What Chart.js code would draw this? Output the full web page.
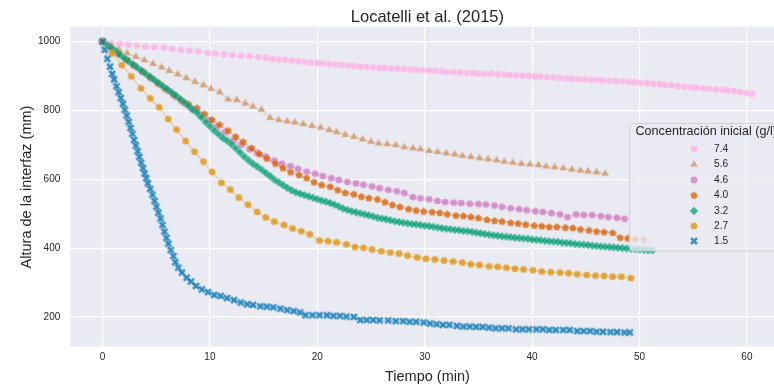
<!DOCTYPE html>
<html>
<head>
<meta charset="utf-8">
<script src="https://cdn.jsdelivr.net/npm/chart.js@4/dist/chart.umd.min.js"></script>
<style>
  html, body { margin: 0; padding: 0; background: #ffffff; overflow: hidden; }
  #wrap { position: relative; width: 790px; height: 388px; }
</style>
</head>
<body>
<div id="wrap"><canvas id="chart"></canvas></div>
<script>
// ---- Texts and ticks ----
const chartTitle = 'Locatelli et al. (2015)';
const xTitle = 'Tiempo (min)';
const yTitle = 'Altura de la interfaz (mm)';
const legendTitle = 'Concentración inicial (g/l)';
const xTicks = [0, 10, 20, 30, 40, 50, 60];
const yTicks = [200, 400, 600, 800, 1000];
const concentrations = ['7.4', '5.6', '4.6', '4.0', '3.2', '2.7', '1.5'];

// ---- Settling curves: [tiempo (min), altura (mm)] ----
const c74 = [[0,1000],[0.8,995],[1.6,993],[2.4,991],[3.2,988],[4.0,985],[4.8,984],[5.7,982],[6.5,979],[7.3,976],
  [8.1,974],[8.9,971],[9.8,967],[10.5,965],[11.3,963],[12.1,961],[12.9,959],[13.7,957],[14.5,955],[15.2,953],
  [15.8,950],[16.4,948],[17.0,947],[17.6,945],[18.2,943],
  [18.8,941],[19.4,939],[20.0,938],[20.5,937],[21.1,935],[21.7,933],[22.3,932],[22.9,930],[23.4,929],[24.0,927],
  [24.6,926],[25.2,925],[25.8,924],[26.3,923],[26.9,922],[27.5,921],[28.1,920],[28.7,919],[29.2,918],[29.8,917],
  [30.4,916],[31.0,915],[31.6,913],[32.1,912],[32.7,911],[33.3,910],[33.9,909],[34.5,908],[35.0,907],[35.6,906],
  [36.2,906],[36.8,905],[37.4,904],[37.9,903],[38.5,902],[39.1,901],[39.7,900],[40.3,899],[40.8,898],[41.4,897],
  [42.0,896],[42.6,894],[43.2,893],[43.7,892],[44.3,891],[44.9,890],[45.5,889],[46.1,888],[46.6,887],[47.2,886],
  [47.8,885],[48.4,884],[49.0,883],[49.5,882],[50.1,880],[50.7,879],[51.3,877],[51.9,876],[52.4,874],[53.0,873],
  [53.6,871],[54.2,869],[54.8,867],[55.3,866],[55.9,864],[56.5,863],[57.1,861],[57.7,860],[58.2,858],[58.8,856],
  [59.4,853],[60.0,851],[60.5,848]];

const c56 = [[0,1000],[0.8,988],[1.5,977],[2.3,966],[3.1,956],[3.9,946],[4.7,935],[5.5,925],[6.2,915],[7.0,905],
  [7.8,894],[8.6,883],[9.4,873],[10.1,863],[10.9,853],[11.7,832],[12.5,830],[13.3,820],[14.0,811],[14.8,802],
  [15.6,778],[16.4,772],[17.2,768],[17.9,765],[18.7,760],[19.5,755],[20.3,750],[21.1,743],[21.8,737],[22.6,729],
  [23.4,723],[24.2,716],[25.0,709],[25.7,704],[26.5,702],[27.3,699],[28.1,693],[28.9,690],[29.6,687],[30.4,682],
  [31.2,679],[32.0,675],[32.8,672],[33.5,668],[34.3,665],[35.1,661],[35.9,658],[36.7,655],[37.4,651],[38.2,648],
  [39.0,645],[39.8,643],[40.6,641],[41.3,637],[42.1,635],[42.9,632],[43.7,628],[44.5,625],[45.2,623],[46.0,620],
  [46.8,616]];

const c46 = [[0,1000],[0.8,981],[1.5,964],[2.3,946],[3.0,929],[3.8,911],[4.6,892],[5.3,875],[6.1,857],[6.8,840],
  [7.6,822],[8.4,804],[9.1,787],[9.9,771],[10.6,752],[11.4,736],[12.2,713],[12.9,700],[13.7,687],[14.4,677],
  [15.2,666],[16.0,654],[16.7,645],[17.5,638],[18.2,630],[19.0,622],[19.8,616],[20.5,609],[21.3,603],[22.0,598],
  [22.8,592],[23.6,588],[24.3,584],[25.1,579],[25.8,574],[26.6,569],[27.4,565],[28.1,560],[28.9,548],[29.6,545],
  [30.4,542],[31.2,537],[31.9,534],[32.7,532],[33.4,531],[34.2,529],[35.0,528],[35.7,527],[36.5,524],[37.2,520],
  [38.0,516],[38.8,513],[39.5,510],[40.3,507],[41.0,505],[41.8,502],[42.6,498],[43.3,490],[44.1,498],[44.8,496],
  [45.6,496],[46.4,493],[47.1,490],[47.9,488],[48.6,485]];

const c40 = [[0,1000],[0.7,983],[1.5,965],[2.2,948],[2.9,931],[3.7,913],[4.4,896],[5.1,880],[5.8,863],[6.6,846],
  [7.3,829],[8.0,818],[8.8,806],[9.5,789],[10.2,772],[10.9,758],[11.7,741],[12.4,723],[13.1,708],[13.9,690],
  [14.6,673],[15.3,660],[16.1,645],[16.8,632],[17.5,620],[18.3,612],[19.0,603],[19.7,591],[20.4,583],[21.2,578],
  [21.9,568],[22.6,560],[23.4,556],[24.1,549],[24.8,545],[25.6,541],[26.3,533],[27.0,525],[27.7,519],[28.5,513],
  [29.2,509],[29.9,506],[30.7,504],[31.4,502],[32.1,498],[32.9,494],[33.6,493],[34.3,490],[35.0,487],[35.8,482],
  [36.5,479],[37.2,477],[38.0,473],[38.7,471],[39.4,468],[40.2,465],[40.9,463],[41.6,461],[42.3,461],[43.1,459],
  [43.8,458],[44.5,454],[45.3,451],[46.0,448],[46.7,446],[47.5,444],[48.2,430],[48.9,428],[49.6,426],[50.4,425]];

const c32 = [[0,1000],[0.4,991],[0.8,982],[1.2,973],[1.6,962],[2.0,952],[2.4,943],[2.8,934],[3.2,925],[3.6,916],
  [4.0,907],[4.4,898],[4.8,889],[5.2,880],[5.6,871],[6.0,862],[6.4,853],[6.8,844],[7.2,834],[7.6,824],
  [8.0,813],[8.4,802],[8.8,793],[9.2,780],[9.6,766],[10.0,754],[10.4,741],[10.8,731],[11.2,720],[11.6,712],
  [12.0,702],[12.4,690],[12.8,678],[13.2,666],[13.6,655],[14.0,645],[14.4,637],[14.8,628],[15.2,618],[15.6,609],
  [16.0,599],[16.4,591],[16.8,583],[17.2,575],[17.6,568],[18.0,562],[18.4,558],[18.8,554],[19.2,550],[19.6,546],
  [20.0,542],[20.4,538],[20.8,535],[21.2,531],[21.6,526],[22.0,521],[22.4,515],[22.8,511],[23.2,507],[23.6,504],
  [24.0,501],[24.4,498],[24.8,495],[25.2,492],[25.6,488],[26.0,486],[26.4,484],[26.8,481],[27.2,478],[27.6,476],
  [28.0,474],[28.4,472],[28.8,470],[29.2,469],[29.6,467],[30.0,465],[30.4,464],[30.8,462],[31.2,460],[31.6,458],
  [32.0,456],[32.4,455],[32.8,453],[33.2,452],[33.6,450],[34.0,449],[34.4,447],[34.8,445],[35.2,443],[35.6,441],
  [36.0,439],[36.4,437],[36.8,436],[37.2,434],[37.6,433],[38.0,432],[38.4,430],[38.8,429],[39.2,428],[39.6,427],
  [40.0,425],[40.4,424],[40.8,423],[41.2,421],[41.6,420],[42.0,419],[42.4,418],[42.8,416],[43.2,415],[43.6,414],
  [44.0,412],[44.4,411],[44.8,410],[45.2,409],[45.6,407],[46.0,406],[46.4,405],[46.8,404],[47.2,403],[47.6,402],
  [48.0,401],[48.4,400],[48.8,399],[49.2,398],[49.6,397],[50.0,396],[50.4,395],[50.8,394],[51.2,394]];

const c27 = [[0,1000],[0.89,966],[1.8,931],[2.68,899],[3.57,864],[4.45,835],[5.27,809],[6.12,775],[6.9,744],[7.74,711],
  [8.57,680],[9.4,651],[10.2,621],[11.06,590],[11.9,570],[12.7,547],[13.55,526],[14.4,505],[15.2,489],[16.0,477],
  [16.9,467],[17.7,457],[18.5,449],[19.3,440],[20.2,422],[21.0,420],[21.8,417],[22.7,411],[23.5,403],[24.3,401],
  [25.1,396],[25.96,391],[26.8,387],[27.6,384],[28.4,378],[29.3,373],[30.1,369],[30.95,367],[31.8,364],[32.65,361],
  [33.5,358],[34.3,353],[35.1,351],[36.0,347],[36.8,346],[37.6,343],[38.4,340],[39.2,338],[40.08,336],[40.9,332],
  [41.75,330],[42.6,329],[43.4,327],[44.2,324],[45.08,322],[45.9,320],[46.7,319],[47.5,317],[48.3,317],[49.2,313]];

const c15 = [[0,1000],[0.2,976],[0.45,950],[0.7,927],[0.9,906],[1.08,890],[1.3,870],[1.5,853],[1.7,836],[1.9,819],
  [2.07,802],[2.25,785],[2.43,767],[2.6,749],[2.78,732],[2.94,714],[3.1,698],[3.27,681],[3.43,665],[3.6,648],
  [3.76,632],[3.92,617],[4.07,603],[4.22,588],[4.44,572],[4.65,555],[4.84,537],[5.02,520],[5.2,503],[5.4,486],
  [5.58,467],[5.76,448],[5.95,430],[6.13,413],[6.35,394],[6.6,377],[6.78,359],[7.06,343],[7.4,329],[7.83,314],
  [8.23,303],[8.7,290],[9.25,280],[9.83,272],[10.4,264],[11.0,261],[11.6,255],[12.24,249],[12.86,242],[13.47,237],
  [14.0,235],[14.7,231],[15.3,230],[15.9,228],[16.56,224],[17.2,220],[17.8,217],[18.4,213],[18.9,205],[19.55,205],
  [20.2,205],[20.9,205],[21.5,203],[22.1,203],[22.7,201],[23.4,200],[24.0,191],[24.6,191],[25.2,191],[25.8,190],
  [26.6,190],[27.3,188],[28.0,188],[28.6,186],[29.2,186],[29.9,184],[30.5,181],[31.1,179],[31.7,177],[32.3,177],
  [33.0,174],[33.6,172],[34.2,172],[34.8,171],[35.4,171],[36.0,169],[36.6,167],[37.2,167],[37.8,167],[38.5,164],
  [39.1,164],[39.7,164],[40.4,164],[41.0,164],[41.6,162],[42.2,162],[42.9,162],[43.5,162],[44.2,159],[44.8,159],
  [45.4,159],[46.0,157],[46.6,157],[47.3,156],[47.9,156],[48.6,155],[49.1,155]];

// ---- Styling ----
const FONT = '"Liberation Sans", Arial, Helvetica, sans-serif';
const TEXT = '#262626';
const PLOT_BG = '#EAEAF2';

const seriesData = [c74, c56, c46, c40, c32, c27, c15];
const seriesRGB = ['251,175,228', '202,145,97', '204,120,188', '213,94,0', '2,158,115', '222,143,5', '1,115,178'];
const seriesShape = ['circle', 'triangle', 'circle', 'pentagon', 'diamond', 'circle', 'x'];

// Filled marker sprites (semi-transparent, thin light edge)
function makeMarker(shape, rgb) {
  const s = 12;
  const cv = document.createElement('canvas');
  cv.width = s; cv.height = s;
  const g = cv.getContext('2d');
  g.translate(s / 2, s / 2);
  g.fillStyle = 'rgba(' + rgb + ',0.75)';
  g.strokeStyle = 'rgba(255,255,255,0.35)';
  g.lineWidth = 0.6;
  g.beginPath();
  if (shape === 'circle') {
    g.arc(0, 0, 3.6, 0, Math.PI * 2);
  } else if (shape === 'triangle') {
    const r = 4.7;
    g.moveTo(0, -r);
    g.lineTo(r * 0.866, r * 0.5);
    g.lineTo(-r * 0.866, r * 0.5);
    g.closePath();
  } else if (shape === 'diamond') {
    const r = 4.3;
    g.moveTo(0, -r); g.lineTo(r, 0); g.lineTo(0, r); g.lineTo(-r, 0);
    g.closePath();
  } else if (shape === 'pentagon') {
    const r = 4.0;
    for (let k = 0; k < 5; k++) {
      const a = -Math.PI / 2 + k * 2 * Math.PI / 5;
      const px = r * Math.cos(a), py = r * Math.sin(a);
      if (k === 0) g.moveTo(px, py); else g.lineTo(px, py);
    }
    g.closePath();
  } else if (shape === 'x') {
    g.rotate(Math.PI / 4);
    const r = 4.3, a = 1.4;
    const pts = [[-a,-r],[a,-r],[a,-a],[r,-a],[r,a],[a,a],[a,r],[-a,r],[-a,a],[-r,a],[-r,-a],[-a,-a]];
    pts.forEach((p, i) => (i === 0 ? g.moveTo(p[0], p[1]) : g.lineTo(p[0], p[1])));
    g.closePath();
  }
  g.fill();
  g.stroke();
  return cv;
}

const markers = seriesShape.map((sh, i) => makeMarker(sh, seriesRGB[i]));

const datasets = seriesData.map((pairs, i) => ({
  label: concentrations[i],
  data: pairs.map(p => ({ x: p[0], y: p[1] })),
  showLine: true,
  borderColor: 'rgba(' + seriesRGB[i] + ',0.3)',
  borderWidth: 1.5,
  pointStyle: markers[i],
  pointRadius: 4,
  pointHoverRadius: 4,
  order: seriesData.length - 1 - i
}));

// Plot background
const plotBackground = {
  id: 'plotBackground',
  beforeDraw(chart) {
    const { ctx, chartArea: a } = chart;
    ctx.save();
    ctx.fillStyle = PLOT_BG;
    ctx.fillRect(a.left, a.top, a.right - a.left, a.bottom - a.top);
    ctx.restore();
  }
};

// Title centred over the axes
const axesTitle = {
  id: 'axesTitle',
  afterDraw(chart) {
    const { ctx, chartArea: a } = chart;
    ctx.save();
    ctx.font = '16.5px ' + FONT;
    ctx.fillStyle = TEXT;
    ctx.textAlign = 'center';
    ctx.textBaseline = 'middle';
    ctx.fillText(chartTitle, (a.left + a.right) / 2, 17);
    ctx.restore();
  }
};

// Legend box inside the axes
const innerLegend = {
  id: 'innerLegend',
  afterDraw(chart) {
    const ctx = chart.ctx;
    const bx = 629.5, by = 123.5, bw = 220, bh = 127.5, rr = 3;
    ctx.save();
    ctx.beginPath();
    ctx.moveTo(bx + rr, by);
    ctx.lineTo(bx + bw - rr, by);
    ctx.arcTo(bx + bw, by, bx + bw, by + rr, rr);
    ctx.lineTo(bx + bw, by + bh - rr);
    ctx.arcTo(bx + bw, by + bh, bx + bw - rr, by + bh, rr);
    ctx.lineTo(bx + rr, by + bh);
    ctx.arcTo(bx, by + bh, bx, by + bh - rr, rr);
    ctx.lineTo(bx, by + rr);
    ctx.arcTo(bx, by, bx + rr, by, rr);
    ctx.closePath();
    ctx.fillStyle = 'rgba(234,234,242,0.8)';
    ctx.fill();
    ctx.strokeStyle = 'rgba(204,204,204,0.8)';
    ctx.lineWidth = 1;
    ctx.stroke();

    ctx.fillStyle = TEXT;
    ctx.textBaseline = 'middle';
    ctx.textAlign = 'left';
    ctx.font = '12.6px ' + FONT;
    ctx.fillText(legendTitle, 635.5, 132);

    const rowY = [149, 164.5, 180, 195.5, 211, 226, 241];
    ctx.font = '10.2px ' + FONT;
    concentrations.forEach((lab, i) => {
      const m = markers[i];
      ctx.drawImage(m, 694 - m.width / 2, rowY[i] - m.height / 2);
      ctx.fillStyle = TEXT;
      ctx.fillText(lab, 714, rowY[i]);
    });
    ctx.restore();
  }
};

new Chart(document.getElementById('chart'), {
  type: 'scatter',
  data: { datasets },
  plugins: [plotBackground, axesTitle, innerLegend],
  options: {
    responsive: true,
    maintainAspectRatio: false,
    devicePixelRatio: 1,
    animation: false,
    events: [],
    layout: { padding: { top: 27, right: 1, bottom: 0, left: 0 } },
    plugins: {
      legend: { display: false },
      tooltip: { enabled: false },
      title: { display: false }
    },
    scales: {
      x: {
        type: 'linear',
        position: 'bottom',
        min: -3.0,
        max: 63.5,
        afterBuildTicks: s => { s.ticks = xTicks.map(v => ({ value: v })); },
        afterFit: s => { s.height = 41; },
        grid: { color: '#ffffff', lineWidth: 1.2, drawTicks: false },
        border: { display: false },
        ticks: { color: TEXT, font: { family: FONT, size: 10 }, padding: 4, maxRotation: 0, callback: v => String(v) },
        title: { display: true, text: xTitle, color: TEXT, font: { family: FONT, size: 14.5 }, padding: { top: 0, bottom: 2 } }
      },
      y: {
        type: 'linear',
        min: 112.75,
        max: 1042.25,
        afterBuildTicks: s => { s.ticks = yTicks.map(v => ({ value: v })); },
        afterFit: s => { s.width = 70.3; },
        grid: { color: '#ffffff', lineWidth: 1.2, drawTicks: false },
        border: { display: false },
        ticks: { color: TEXT, font: { family: FONT, size: 10 }, padding: 10, callback: v => String(v) },
        title: { display: true, text: yTitle, color: TEXT, font: { family: FONT, size: 14.5 }, padding: { top: 18, bottom: 0 } }
      }
    }
  }
});
</script>
</body>
</html>
